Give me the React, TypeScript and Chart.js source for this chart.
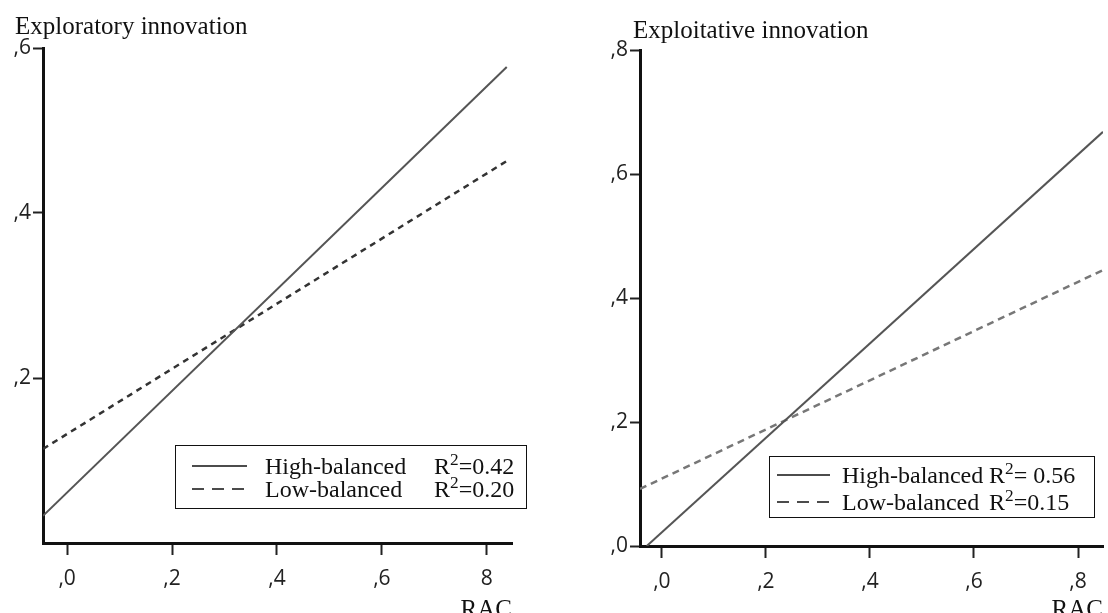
import React, { useEffect, useRef } from "react";
import { Chart, registerables } from "chart.js";
Chart.register(...registerables);

// ---------- Data: left panel (Exploratory innovation) ----------
const leftTitle = "Exploratory innovation";
const leftX = [-0.046, 0.838];
const leftHigh = [0.033, 0.577];
const leftLow = [0.114, 0.463];
const leftYTicks = [0.2, 0.4, 0.6];
const leftYLabels = [",2", ",4", ",6"];
const leftXTicks = [0, 0.2, 0.4, 0.6, 0.8];
const leftXLabels = [",0", ",2", ",4", ",6", "8"];
const leftR2 = ["=0.42", "=0.20"];

// ---------- Data: right panel (Exploitative innovation) ----------
const rightTitle = "Exploitative innovation";
const rightHighX = [-0.029, 0.848];
const rightHigh = [0.0, 0.668];
const rightLowX = [-0.042, 0.848];
const rightLow = [0.092, 0.445];
const rightYTicks = [0, 0.2, 0.4, 0.6, 0.8];
const rightYLabels = [",0", ",2", ",4", ",6", ",8"];
const rightXTicks = [0, 0.2, 0.4, 0.6, 0.8];
const rightXLabels = [",0", ",2", ",4", ",6", ",8"];
const rightR2 = ["= 0.56", "=0.15"];

const seriesNames = ["High-balanced", "Low-balanced"];
const xAxisTitle = "RAC";

const SERIF = "'Liberation Serif', 'Times New Roman', serif";
const SANS = "'Open Sans', 'Noto Sans', sans-serif";

const panelTitlePlugin = {
  id: "panelTitle",
  afterDraw(chart: any, _args: any, opts: any) {
    const { ctx, chartArea } = chart;
    ctx.save();
    ctx.font = opts.font;
    ctx.fillStyle = opts.color;
    ctx.textAlign = "left";
    ctx.textBaseline = "alphabetic";
    ctx.fillText(opts.text, chartArea.left + opts.dx, chartArea.top + opts.dy);
    ctx.restore();
  },
};

function lookup(ticks: number[], labels: string[]) {
  return (v: any) => {
    const i = ticks.findIndex((t) => Math.abs(t - Number(v)) < 1e-6);
    return i >= 0 ? labels[i] : "";
  };
}

function makeConfig(p: any) {
  return {
    type: "scatter",
    data: {
      datasets: [
        {
          label: seriesNames[0],
          data: p.highX.map((x: number, i: number) => ({ x, y: p.high[i] })),
          showLine: true,
          borderColor: p.highColor,
          borderWidth: 2,
          pointRadius: 0,
        },
        {
          label: seriesNames[1],
          data: p.lowX.map((x: number, i: number) => ({ x, y: p.low[i] })),
          showLine: true,
          borderColor: p.lowColor,
          borderWidth: 2.5,
          borderDash: p.dash,
          pointRadius: 0,
        },
      ],
    },
    options: {
      responsive: false,
      animation: false,
      layout: { padding: { left: 0, top: p.padTop, right: p.padRight, bottom: 0 } },
      plugins: {
        legend: { display: false },
        tooltip: { enabled: false },
        panelTitle: {
          text: p.title,
          font: `25px ${SERIF}`,
          color: "#111",
          dx: p.titleDx,
          dy: p.titleDy,
        },
      },
      scales: {
        x: {
          type: "linear",
          min: p.xMin,
          max: p.xMax,
          afterFit: (s: any) => {
            s.height = p.xAxisH;
          },
          afterBuildTicks: (s: any) => {
            s.ticks = p.xTicks.map((v: number) => ({ value: v }));
          },
          ticks: {
            callback: lookup(p.xTicks, p.xLabels),
            font: { family: SANS, size: 21 },
            color: "#222",
            padding: 11,
            maxRotation: 0,
            autoSkip: false,
          },
          grid: {
            drawOnChartArea: false,
            drawTicks: true,
            tickLength: 12,
            tickColor: "#222",
            tickWidth: 2,
          },
          border: { display: true, color: "#111", width: 3 },
          title: {
            display: true,
            text: xAxisTitle,
            align: "end",
            font: { family: SERIF, size: 25 },
            color: "#111",
            padding: { top: 0, bottom: 0 },
          },
        },
        y: {
          type: "linear",
          min: p.yMin,
          max: p.yMax,
          afterFit: (s: any) => {
            s.width = p.yAxisW;
          },
          afterBuildTicks: (s: any) => {
            s.ticks = p.yTicks.map((v: number) => ({ value: v }));
          },
          ticks: {
            callback: lookup(p.yTicks, p.yLabels),
            font: { family: SANS, size: 21 },
            color: "#222",
            padding: 2,
            autoSkip: false,
          },
          grid: {
            drawOnChartArea: false,
            drawTicks: true,
            tickLength: 10,
            tickColor: "#222",
            tickWidth: 2,
          },
          border: { display: true, color: "#111", width: 3 },
        },
      },
    },
    plugins: [panelTitlePlugin],
  };
}

function Panel({ left, width, height, config }: any) {
  const ref = useRef<HTMLCanvasElement>(null);
  useEffect(() => {
    const chart = new Chart(ref.current as any, config as any);
    return () => chart.destroy();
  }, []);
  return (
    <div style={{ position: "absolute", left, top: 0, width, height }}>
      <canvas ref={ref} width={width} height={height} style={{ display: "block" }} />
    </div>
  );
}

function LegendBox({ left, top, width, height, rows, sampleX1, sampleX2, textX, rX, fontSize }: any) {
  return (
    <div
      style={{
        position: "absolute",
        left,
        top,
        width,
        height,
        border: "1.5px solid #111",
        boxSizing: "border-box",
        background: "transparent",
        fontFamily: SERIF,
        fontSize,
        color: "#111",
      }}
    >
      <svg width={width} height={height} style={{ position: "absolute", left: -1.5, top: -1.5 }}>
        {rows.map((r: any, i: number) => (
          <line
            key={i}
            x1={sampleX1}
            x2={sampleX2}
            y1={r.y}
            y2={r.y}
            stroke="#111"
            strokeWidth={1.6}
            strokeDasharray={r.dashed ? "12 8" : undefined}
          />
        ))}
      </svg>
      {rows.map((r: any, i: number) => (
        <React.Fragment key={i}>
          <div style={{ position: "absolute", left: textX, top: r.y - 16, lineHeight: "30px", whiteSpace: "nowrap" }}>
            {r.name}
          </div>
          <div style={{ position: "absolute", left: rX, top: r.y - 16, lineHeight: "30px", whiteSpace: "nowrap" }}>
            R<sup style={{ fontSize: "0.72em", lineHeight: 0, verticalAlign: "0.55em" }}>2</sup>
            {r.r2}
          </div>
        </React.Fragment>
      ))}
    </div>
  );
}

export default function App() {
  const leftCfg = makeConfig({
    title: leftTitle,
    titleDx: -28,
    titleDy: -14,
    highX: leftX,
    high: leftHigh,
    lowX: leftX,
    low: leftLow,
    highColor: "#555",
    lowColor: "#333",
    dash: [6, 5],
    xMin: -0.046,
    xMax: 0.848,
    yMin: 0,
    yMax: 0.6,
    xTicks: leftXTicks,
    xLabels: leftXLabels,
    yTicks: leftYTicks,
    yLabels: leftYLabels,
    padTop: 48,
    padRight: 48,
    xAxisH: 82,
    yAxisW: 43,
  });
  const rightCfg = makeConfig({
    title: rightTitle,
    titleDx: -7,
    titleDy: -12,
    highX: rightHighX,
    high: rightHigh,
    lowX: rightLowX,
    low: rightLow,
    highColor: "#555",
    lowColor: "#777",
    dash: [7, 5],
    xMin: -0.042,
    xMax: 0.848,
    yMin: 0,
    yMax: 0.8,
    xTicks: rightXTicks,
    xLabels: rightXLabels,
    yTicks: rightYTicks,
    yLabels: rightYLabels,
    padTop: 50,
    padRight: 5,
    xAxisH: 79,
    yAxisW: 80,
  });
  return (
    <div
      style={{
        position: "fixed",
        left: 0,
        top: 0,
        width: 1108,
        height: 613,
        overflow: "hidden",
        background: "#fff",
      }}
    >
      <Panel left={0} width={560} height={625} config={leftCfg} />
      <Panel left={560} width={548} height={625} config={rightCfg} />
      <LegendBox
        left={175}
        top={445}
        width={352}
        height={64}
        fontSize={24}
        sampleX1={17}
        sampleX2={72}
        textX={89}
        rX={258}
        rows={[
          { y: 21, dashed: false, name: seriesNames[0], r2: leftR2[0] },
          { y: 44, dashed: true, name: seriesNames[1], r2: leftR2[1] },
        ]}
      />
      <LegendBox
        left={769}
        top={456}
        width={326}
        height={62}
        fontSize={24}
        sampleX1={8}
        sampleX2={61}
        textX={72}
        rX={219}
        rows={[
          { y: 19, dashed: false, name: seriesNames[0], r2: rightR2[0] },
          { y: 46, dashed: true, name: seriesNames[1], r2: rightR2[1] },
        ]}
      />
    </div>
  );
}
